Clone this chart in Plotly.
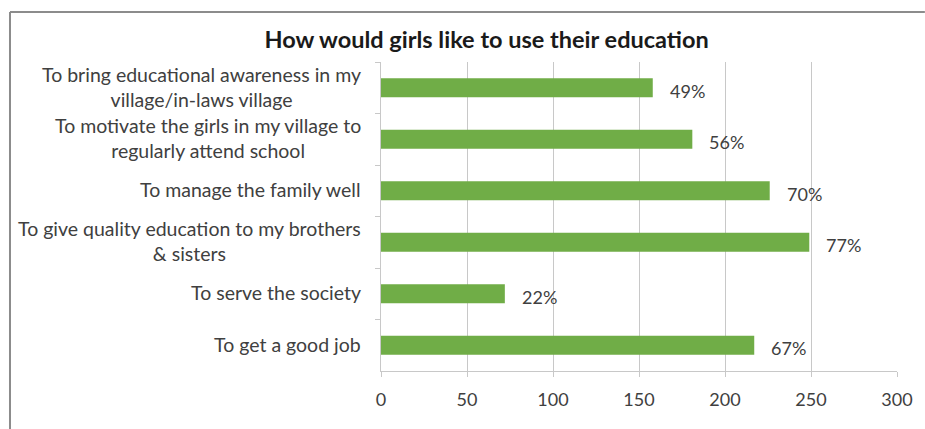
import plotly.graph_objects as go

# Survey responses (number of girls choosing each use), top to bottom
categories = [
    "To bring educational awareness in my<br>village/in-laws village",
    "To motivate the girls in my village to<br>regularly attend school",
    "To manage the family well",
    "To give quality education to my brothers<br>& sisters",
    "To serve the society",
    "To get a good job",
]
counts = [158, 181, 226, 249, 72, 217]
total_respondents = 323
x_ticks = [0, 50, 100, 150, 200, 250, 300]

percent_labels = [f"{round(100 * c / total_respondents)}%" for c in counts]

FONT = "Lato, 'Open Sans', sans-serif"
TEXT = "#404040"
GREEN = "#70ad47"
GRID = "#c8c8c8"

fig = go.Figure(
    go.Bar(
        x=counts,
        y=categories,
        orientation="h",
        width=0.37,
        marker=dict(color=GREEN, line=dict(width=0)),
        hoverinfo="skip",
    )
)

annotations = []
# category labels, centred across their own lines like the wrapped labels
for cat in categories:
    annotations.append(dict(
        x=0, xref="paper", y=cat, yref="y",
        xanchor="right", yanchor="middle", xshift=-18, yshift=1,
        text=cat, showarrow=False, align="center",
        font=dict(family=FONT, size=19.5, color=TEXT),
    ))
# percentage labels beside each bar
for cat, c, lab in zip(categories, counts, percent_labels):
    annotations.append(dict(
        x=c, xref="x", y=cat, yref="y",
        xanchor="left", yanchor="middle", xshift=15, yshift=-3,
        text=lab, showarrow=False,
        font=dict(family=FONT, size=18, color=TEXT),
    ))

fig.update_layout(
    width=925, height=429,
    margin=dict(l=381, r=28, t=62, b=58),
    paper_bgcolor="white", plot_bgcolor="white",
    showlegend=False,
    title=dict(
        text="<b>How would girls like to use their education</b>",
        x=0.526, xanchor="center", y=0.907, yanchor="middle",
        font=dict(family=FONT, size=23.5, color="#1a1a1a"),
    ),
    xaxis=dict(
        range=[0, 300], tickvals=x_ticks, ticktext=[str(v) for v in x_ticks],
        showgrid=True, gridcolor=GRID, gridwidth=1,
        showline=True, linecolor=GRID, linewidth=1,
        ticks="outside", ticklen=5, tickcolor=GRID,
        ticklabelstandoff=7,
        tickfont=dict(family=FONT, size=18, color=TEXT),
        zeroline=False, fixedrange=True,
    ),
    yaxis=dict(
        type="category", autorange="reversed",
        showticklabels=False, tickson="boundaries",
        ticks="outside", ticklen=5, tickcolor=GRID,
        showgrid=False, showline=True, linecolor=GRID, linewidth=1,
        fixedrange=True,
    ),
    annotations=annotations,
    shapes=[
        # chart frame: top and left edges
        dict(type="line", xref="paper", yref="paper",
             x0=-0.719, x1=1.054, y0=1.162, y1=1.162,
             line=dict(color="#8c8c8c", width=2)),
        dict(type="line", xref="paper", yref="paper",
             x0=-0.719, x1=-0.719, y0=1.162, y1=-0.2,
             line=dict(color="#8c8c8c", width=2)),
    ],
)

fig.write_html("out.html", config={"displayModeBar": False})
